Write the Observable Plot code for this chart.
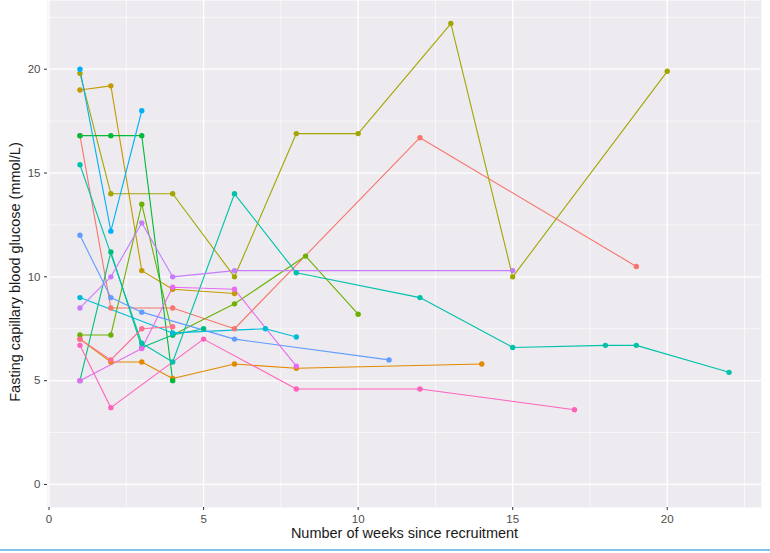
<!DOCTYPE html>
<html>
<head>
<meta charset="utf-8">
<script src="https://cdn.jsdelivr.net/npm/d3@7"></script>
<script src="https://cdn.jsdelivr.net/npm/@observablehq/plot@0.6"></script>
<style>
  html, body { margin: 0; padding: 0; background: #ffffff; }
  #chart { width: 770px; height: 553px; position: relative; overflow: hidden; }
  #chart svg { display: block; }
  #rule { position: absolute; left: 0; top: 549px; width: 770px; height: 2px; background: #7fc4ea; }
</style>
</head>
<body>
<div id="chart"><div id="rule"></div></div>
<script>
// Participants (one line each) and their colours
const ids = ["P01","P02","P03","P04","P05","P06","P07","P08","P09","P10","P11","P12","P13","P14","P15"];
const colors = ["#F8766D","#E38900","#C49A00","#A3A500","#6BB100","#00BA38","#00BF7D","#00C1AA","#00BCD8","#00B0F6","#619CFF","#C77CFF","#E76BF3","#FF62BC","#FF6C91"];

// weeks since recruitment
const weeks = {
  P01: [1, 2, 4, 6, 12, 19],
  P02: [1, 2, 3, 4, 6, 8, 14],
  P03: [1, 2, 3, 4, 6],
  P04: [1, 2, 4, 6, 8, 10, 13, 15, 20],
  P05: [1, 2, 3, 4, 6, 8.3, 10],
  P06: [1, 2, 3, 4],
  P07: [1, 2, 3, 4, 5],
  P08: [1, 3, 4, 6, 8, 12, 15, 18, 19, 22],
  P09: [1, 4, 7, 8],
  P10: [1, 2, 3],
  P11: [1, 2, 3, 6, 11],
  P12: [1, 2, 3, 4, 6, 15],
  P13: [1, 3, 4, 6, 8],
  P14: [1, 2, 5, 8, 12, 17],
  P15: [1, 2, 3, 4]
};
// fasting capillary blood glucose (mmol/L)
const glucose = {
  P01: [16.8, 8.5, 8.5, 7.5, 16.7, 10.5],
  P02: [7.0, 5.9, 5.9, 5.1, 5.8, 5.6, 5.8],
  P03: [19.0, 19.2, 10.3, 9.4, 9.2],
  P04: [19.8, 14.0, 14.0, 10.0, 16.9, 16.9, 22.2, 10.0, 19.9],
  P05: [7.2, 7.2, 13.5, 7.2, 8.7, 11.0, 8.2],
  P06: [16.8, 16.8, 16.8, 5.0],
  P07: [5.0, 11.2, 6.6, 7.2, 7.5],
  P08: [15.4, 6.8, 5.9, 14.0, 10.2, 9.0, 6.6, 6.7, 6.7, 5.4],
  P09: [9.0, 7.3, 7.5, 7.1],
  P10: [20.0, 12.2, 18.0],
  P11: [12.0, 9.0, 8.3, 7.0, 6.0],
  P12: [8.5, 10.0, 12.6, 10.0, 10.3, 10.3],
  P13: [5.0, 6.55, 9.5, 9.4, 5.7],
  P14: [6.7, 3.7, 7.0, 4.6, 4.6, 3.6],
  P15: [7.0, 6.0, 7.5, 7.6]
};

const xMajor = [0, 5, 10, 15, 20];
const xMinor = [2.5, 7.5, 12.5, 17.5, 22.5];
const yMajor = [0, 5, 10, 15, 20];
const yMinor = [2.5, 7.5, 12.5, 17.5, 22.5];
const xTitle = "Number of weeks since recruitment";
const yTitle = "Fasting capillary blood glucose (mmol/L)";

const rows = ids.flatMap(id => weeks[id].map((w, i) => ({id, week: w, value: glucose[id][i]})));

const font = "'Liberation Sans', Arial, sans-serif";

const chart = Plot.plot({
  width: 770,
  height: 548,
  marginLeft: 47,
  marginRight: 9,
  marginTop: 0,
  marginBottom: 41,
  style: {fontFamily: font, background: "#ffffff", overflow: "visible"},
  x: {domain: [-0.05, 23.05]},
  y: {domain: [-1.11, 23.31]},
  color: {domain: ids, range: colors},
  marks: [
    Plot.frame({fill: "#EDEBEF", stroke: null}),
    Plot.ruleX(xMinor, {stroke: "#ffffff", strokeWidth: 0.6}),
    Plot.ruleY(yMinor, {stroke: "#ffffff", strokeWidth: 0.6}),
    Plot.ruleX(xMajor, {stroke: "#ffffff", strokeWidth: 1.3}),
    Plot.ruleY(yMajor, {stroke: "#ffffff", strokeWidth: 1.3}),
    Plot.line(rows, {x: "week", y: "value", z: "id", stroke: "id", strokeWidth: 1.1}),
    Plot.dot(rows, {x: "week", y: "value", fill: "id", r: 2.7}),
    Plot.axisX({ticks: xMajor, tickSize: 3, tickPadding: 4, label: null, fontSize: 11.5, color: "#4D4D4D", stroke: "#333333"}),
    Plot.axisY({ticks: yMajor, tickSize: 3, tickPadding: 4, label: null, fontSize: 11.5, color: "#4D4D4D", stroke: "#333333"}),
    Plot.text([xTitle], {frameAnchor: "bottom", dy: 30, fontSize: 14.5, fill: "#1a1a1a"}),
    Plot.text([yTitle], {frameAnchor: "left", dx: -32, dy: 18, rotate: -90, textAnchor: "middle", fontSize: 14.5, fill: "#1a1a1a"})
  ]
});

document.getElementById("chart").prepend(chart);
</script>
</body>
</html>
